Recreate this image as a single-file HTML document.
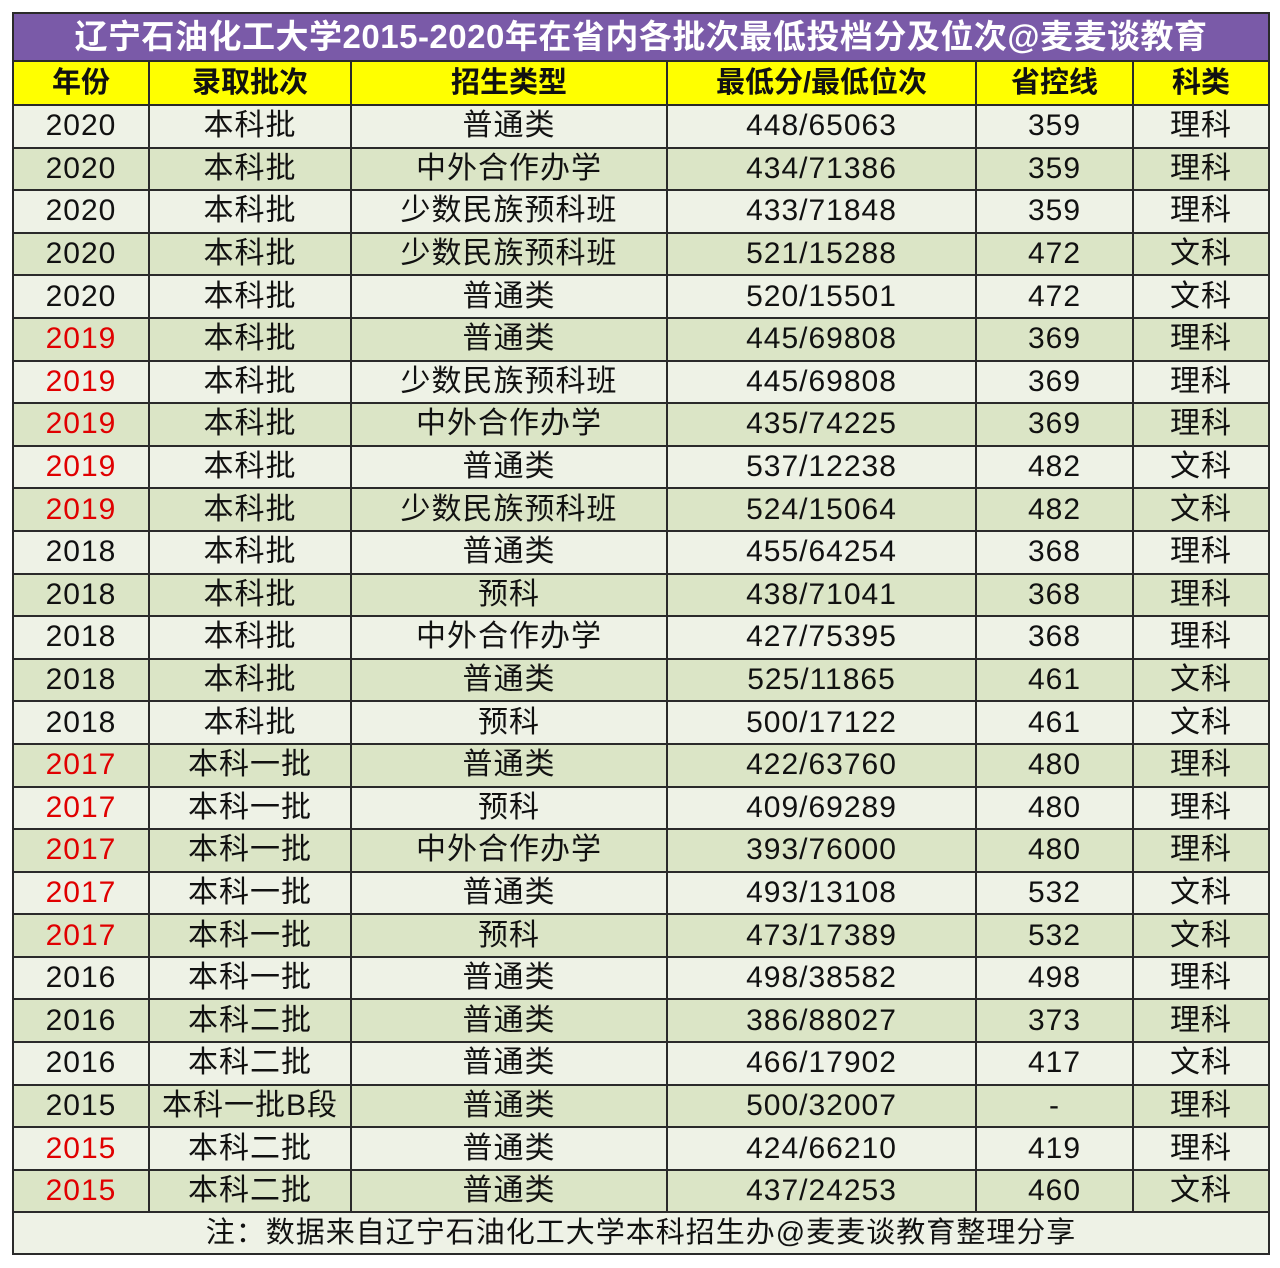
<!DOCTYPE html>
<html><head><meta charset="utf-8"><style>
html,body{margin:0;padding:0;background:#fff;width:1280px;height:1268px;overflow:hidden}
table{position:absolute;left:12px;top:12px;border-collapse:collapse;table-layout:fixed;width:1256px;font-family:"Liberation Sans","Noto Sans CJK SC",sans-serif}
td{border:2px solid #2a2a2a;text-align:center;padding:0;font-size:30px;letter-spacing:1px;color:#111;height:40.6px;line-height:40px;white-space:nowrap;overflow:hidden}
tr.t td{background:#7a5aa8;color:#fff;font-weight:bold;font-size:33px;height:46px;letter-spacing:0.5px}
tr.h td{background:#ffff00;font-weight:bold;font-size:29px;height:42px;letter-spacing:0}
tr.a td{background:#eef2e6}
tr.b td{background:#dbe5c6}
td.r{color:#e00000}
tr.f td{background:#eef2e6;height:40px;font-size:29px}
</style></head><body>
<table>
<colgroup><col style="width:136px"><col style="width:202px"><col style="width:316px"><col style="width:309px"><col style="width:157px"><col style="width:136px"></colgroup>
<tr class="t"><td colspan="6">辽宁石油化工大学2015-2020年在省内各批次最低投档分及位次@麦麦谈教育</td></tr>
<tr class="h"><td>年份</td><td>录取批次</td><td>招生类型</td><td>最低分/最低位次</td><td>省控线</td><td>科类</td></tr>
<tr class="a"><td>2020</td><td>本科批</td><td>普通类</td><td>448/65063</td><td>359</td><td>理科</td></tr>
<tr class="b"><td>2020</td><td>本科批</td><td>中外合作办学</td><td>434/71386</td><td>359</td><td>理科</td></tr>
<tr class="a"><td>2020</td><td>本科批</td><td>少数民族预科班</td><td>433/71848</td><td>359</td><td>理科</td></tr>
<tr class="b"><td>2020</td><td>本科批</td><td>少数民族预科班</td><td>521/15288</td><td>472</td><td>文科</td></tr>
<tr class="a"><td>2020</td><td>本科批</td><td>普通类</td><td>520/15501</td><td>472</td><td>文科</td></tr>
<tr class="b"><td class="r">2019</td><td>本科批</td><td>普通类</td><td>445/69808</td><td>369</td><td>理科</td></tr>
<tr class="a"><td class="r">2019</td><td>本科批</td><td>少数民族预科班</td><td>445/69808</td><td>369</td><td>理科</td></tr>
<tr class="b"><td class="r">2019</td><td>本科批</td><td>中外合作办学</td><td>435/74225</td><td>369</td><td>理科</td></tr>
<tr class="a"><td class="r">2019</td><td>本科批</td><td>普通类</td><td>537/12238</td><td>482</td><td>文科</td></tr>
<tr class="b"><td class="r">2019</td><td>本科批</td><td>少数民族预科班</td><td>524/15064</td><td>482</td><td>文科</td></tr>
<tr class="a"><td>2018</td><td>本科批</td><td>普通类</td><td>455/64254</td><td>368</td><td>理科</td></tr>
<tr class="b"><td>2018</td><td>本科批</td><td>预科</td><td>438/71041</td><td>368</td><td>理科</td></tr>
<tr class="a"><td>2018</td><td>本科批</td><td>中外合作办学</td><td>427/75395</td><td>368</td><td>理科</td></tr>
<tr class="b"><td>2018</td><td>本科批</td><td>普通类</td><td>525/11865</td><td>461</td><td>文科</td></tr>
<tr class="a"><td>2018</td><td>本科批</td><td>预科</td><td>500/17122</td><td>461</td><td>文科</td></tr>
<tr class="b"><td class="r">2017</td><td>本科一批</td><td>普通类</td><td>422/63760</td><td>480</td><td>理科</td></tr>
<tr class="a"><td class="r">2017</td><td>本科一批</td><td>预科</td><td>409/69289</td><td>480</td><td>理科</td></tr>
<tr class="b"><td class="r">2017</td><td>本科一批</td><td>中外合作办学</td><td>393/76000</td><td>480</td><td>理科</td></tr>
<tr class="a"><td class="r">2017</td><td>本科一批</td><td>普通类</td><td>493/13108</td><td>532</td><td>文科</td></tr>
<tr class="b"><td class="r">2017</td><td>本科一批</td><td>预科</td><td>473/17389</td><td>532</td><td>文科</td></tr>
<tr class="a"><td>2016</td><td>本科一批</td><td>普通类</td><td>498/38582</td><td>498</td><td>理科</td></tr>
<tr class="b"><td>2016</td><td>本科二批</td><td>普通类</td><td>386/88027</td><td>373</td><td>理科</td></tr>
<tr class="a"><td>2016</td><td>本科二批</td><td>普通类</td><td>466/17902</td><td>417</td><td>文科</td></tr>
<tr class="b"><td>2015</td><td>本科一批B段</td><td>普通类</td><td>500/32007</td><td>-</td><td>理科</td></tr>
<tr class="a"><td class="r">2015</td><td>本科二批</td><td>普通类</td><td>424/66210</td><td>419</td><td>理科</td></tr>
<tr class="b"><td class="r">2015</td><td>本科二批</td><td>普通类</td><td>437/24253</td><td>460</td><td>文科</td></tr>
<tr class="f"><td colspan="6">注：数据来自辽宁石油化工大学本科招生办@麦麦谈教育整理分享</td></tr>
</table>
</body></html>
